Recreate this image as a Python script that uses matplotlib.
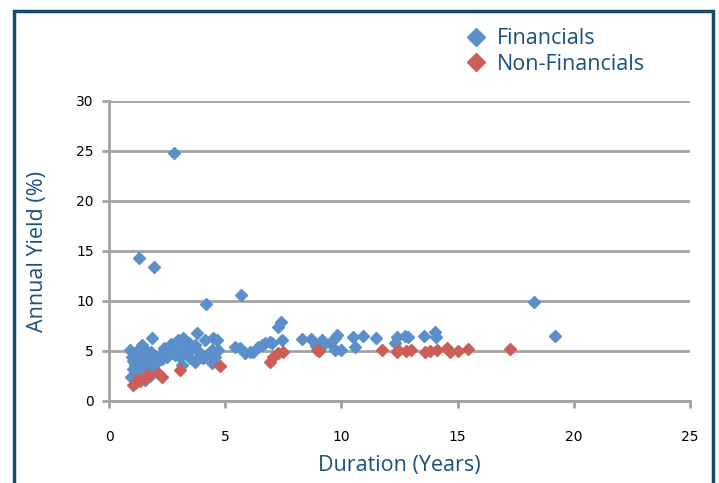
import matplotlib.pyplot as plt
from matplotlib.patches import Rectangle

# Bond yields vs duration
fin_duration = [0.90, 0.95, 1.00, 1.03, 1.05, 1.10, 1.12, 1.15, 1.20, 1.25,
                 1.30, 1.30, 1.35, 1.40, 1.42, 1.45, 1.50, 1.55, 1.55, 1.60,
                 1.65, 1.70, 1.75, 1.80, 1.85, 1.85, 1.94, 1.98, 2.10, 2.20,
                 2.30, 2.40, 2.50, 2.60, 2.70, 2.77, 2.80, 2.85, 2.98, 3.05,
                 3.10, 3.13, 3.18, 3.27, 3.35, 3.49, 3.55, 3.70, 3.70, 3.77,
                 3.85, 4.06, 4.13, 4.17, 4.30, 4.42, 4.42, 4.49, 4.63, 4.70,
                 5.42, 5.64, 5.68, 5.85, 6.07, 6.20, 6.43, 6.60, 6.71, 6.93,
                 7.00, 7.29, 7.40, 7.43, 8.29, 8.70, 8.90, 9.15, 9.20, 9.50,
                 9.72, 9.80, 9.72, 10.00, 10.50, 10.60, 10.95, 11.50, 12.30, 12.38,
                 12.74, 12.87, 13.55, 14.03, 14.07, 18.30, 19.20,
                 1.08, 1.22, 1.38, 1.58, 2.35, 2.65, 3.45, 3.95, 4.55]
fin_yield = [5.1, 2.4, 4.4, 3.2, 4.0, 2.9, 3.6, 4.8, 2.3, 3.9,
             14.3, 3.1, 4.5, 5.6, 2.6, 3.5, 5.2, 4.1, 2.1, 3.0,
             4.6, 3.7, 2.5, 4.9, 6.3, 3.3, 13.4, 4.3, 4.0, 4.5,
             4.2, 4.9, 4.4, 5.2, 5.0, 5.6, 24.8, 4.6, 6.1, 4.4,
             5.5, 3.6, 6.3, 6.1, 5.0, 4.3, 5.3, 5.6, 3.9, 6.8,
             5.0, 4.3, 6.1, 9.7, 4.8, 5.1, 3.8, 6.3, 6.1, 5.1,
             5.4, 5.3, 10.6, 4.8, 4.9, 4.9, 5.4, 5.6, 5.8, 5.9,
             5.8, 7.4, 7.9, 6.1, 6.2, 6.2, 5.5, 6.1, 5.6, 5.8,
             6.3, 6.6, 5.1, 5.1, 6.4, 5.4, 6.5, 6.3, 5.8, 6.4,
             6.5, 6.4, 6.5, 6.9, 6.4, 9.9, 6.5,
             4.3, 5.0, 3.9, 4.7, 5.3, 5.7, 5.8, 4.6, 4.4]

nonfin_duration = [1.05, 1.12, 1.19, 1.33, 1.45, 1.62, 1.69, 2.12, 2.27, 3.06,
                   4.78, 6.93, 7.07, 7.29, 7.50, 8.94, 9.05, 11.73, 12.38, 12.44,
                   12.80, 13.00, 13.60, 13.80, 14.10, 14.55, 14.67, 15.03, 15.46, 17.25]
nonfin_yield = [1.6, 1.8, 2.1, 2.0, 2.3, 2.4, 2.6, 2.8, 2.4, 3.1,
                3.5, 3.9, 4.4, 4.8, 4.9, 5.1, 5.0, 5.1, 4.9, 5.1,
                5.0, 5.1, 4.9, 5.0, 5.1, 5.3, 4.9, 5.0, 5.2, 5.2]

blue = '#5B8FCB'
red = '#CD5E57'
grid_grey = '#A3A3A3'
text_blue = '#1A5180'

fig = plt.figure(figsize=(7.19, 4.83), dpi=100)
ax = fig.add_axes([109/719, 1 - 401/483, 581/719, 300/483])

ax.plot(fin_duration, fin_yield, 'D', ms=6.4, color=blue, mec=blue,
        label='Financials', clip_on=False, zorder=3)
ax.plot(nonfin_duration, nonfin_yield, 'D', ms=6.4, color=red, mec=red,
        label='Non-Financials', clip_on=False, zorder=4)

ax.set_xlim(0, 25)
ax.set_ylim(0, 30)
ax.set_xticks(range(0, 26, 5))
ax.set_yticks(range(0, 31, 5))

ax.grid(axis='y', color=grid_grey, lw=2.0)
ax.set_axisbelow(True)
for side in ['top', 'right']:
    ax.spines[side].set_visible(False)
for side in ['left', 'bottom']:
    ax.spines[side].set_color(grid_grey)
    ax.spines[side].set_linewidth(2.0)

ax.tick_params(axis='both', direction='out', color=grid_grey, width=2.0,
               length=5, labelsize=10, labelcolor='black')
ax.tick_params(axis='x', pad=16)
ax.tick_params(axis='y', pad=6)

ax.set_xlabel('Duration (Years)', fontsize=15.5, color=text_blue,
              family='Open Sans', labelpad=8)
ax.set_ylabel('Annual Yield (%)', fontsize=15.5, color=text_blue,
              family='Open Sans', labelpad=20)

leg = fig.legend(loc='upper left', bbox_to_anchor=(446/719, 1 - 9/483),
                 frameon=False, handletextpad=0.45,
                 labelspacing=0.2, handlelength=1.0,
                 prop={'family': 'Open Sans', 'size': 15.5})
for t in leg.get_texts():
    t.set_color(text_blue)
for h in leg.legend_handles:
    h.set_markersize(9)

# outer frame, open at the bottom
fig.patches.append(Rectangle((14/719, -0.2), 699/719, 1.2 - 11/483,
                             transform=fig.transFigure, fill=False,
                             edgecolor='#174B6E', lw=2.5))

fig.savefig('out.png', dpi=100)
